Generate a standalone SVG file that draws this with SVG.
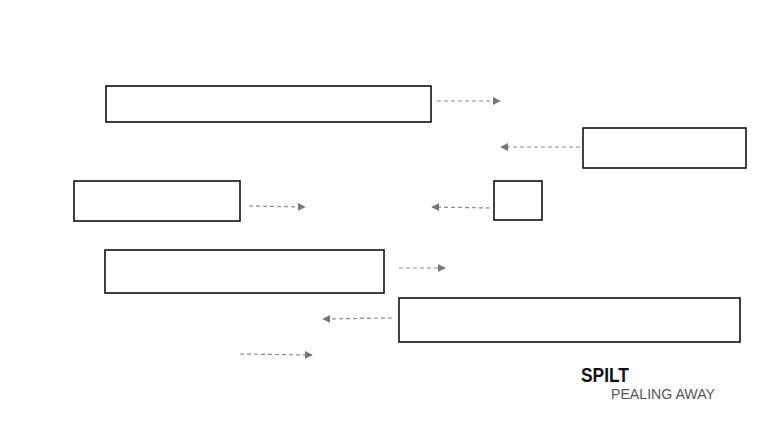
<svg xmlns="http://www.w3.org/2000/svg" width="757" height="438" viewBox="0 0 757 438">
<style>
.box{fill:#fff;stroke:#111;stroke-width:1.6}
.arr{fill:none;stroke:#8a8a8a;stroke-width:1.2;stroke-dasharray:4 3}
.t1{font-family:"Liberation Sans",Arial,sans-serif;font-weight:bold;font-size:21px;fill:#111}
.t2{font-family:"Liberation Sans",Arial,sans-serif;font-size:15px;fill:#555}
</style>
<defs>
<marker id="ah" viewBox="0 0 10 10" refX="9" refY="5" markerWidth="8" markerHeight="8" markerUnits="userSpaceOnUse" orient="auto">
<path d="M0,0 L10,5 L0,10 Z" fill="#777"/>
</marker>
</defs>
<rect width="757" height="438" fill="#fff"/>
<g id="connectors">
<line class="arr" x1="437" y1="101" x2="500" y2="101" marker-end="url(#ah)"/>
<line class="arr" x1="580" y1="147" x2="501" y2="147" marker-end="url(#ah)"/>
<line class="arr" x1="249" y1="206" x2="305" y2="207" marker-end="url(#ah)"/>
<line class="arr" x1="490" y1="208" x2="432" y2="207" marker-end="url(#ah)"/>
<line class="arr" x1="399" y1="268" x2="445" y2="268" marker-end="url(#ah)"/>
<line class="arr" x1="392" y1="318" x2="323" y2="319" marker-end="url(#ah)"/>
<line class="arr" x1="240" y1="354" x2="312" y2="355" marker-end="url(#ah)"/>
</g>
<g id="node1"><rect class="box" x="106" y="86" width="325" height="36"/></g>
<g id="node2"><rect class="box" x="583" y="128" width="163" height="40"/></g>
<g id="node3"><rect class="box" x="74" y="181" width="166" height="40"/></g>
<g id="node4"><rect class="box" x="494" y="181" width="48" height="39"/></g>
<g id="node5"><rect class="box" x="105" y="250" width="279" height="43"/></g>
<g id="node6"><rect class="box" x="399" y="298" width="341" height="44"/></g>
<g id="title">
<text class="t1" x="581" y="382" textLength="48" lengthAdjust="spacingAndGlyphs">SPILT</text>
<text class="t2" x="611" y="399" textLength="104" lengthAdjust="spacingAndGlyphs">PEALING AWAY</text>
</g>
</svg>
